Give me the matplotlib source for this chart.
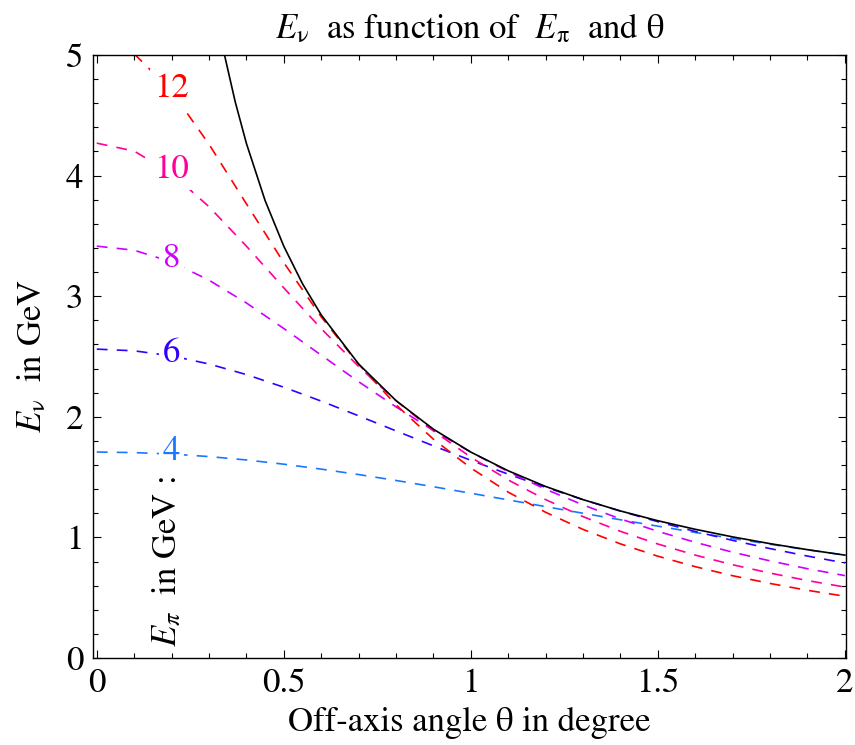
import matplotlib
matplotlib.use("Agg")
import matplotlib.pyplot as plt
from matplotlib.ticker import MultipleLocator

plt.rcParams["font.family"] = ["STIXGeneral", "DejaVu Serif"]
plt.rcParams["mathtext.fontset"] = "stix"

# off-axis angle (deg) sample points
THETA = [0.0, 0.1, 0.2, 0.3, 0.4, 0.5, 0.6, 0.7, 0.8, 0.9, 1.0,
         1.1, 1.2, 1.3, 1.4, 1.5, 1.6, 1.7, 1.8, 1.9, 2.0]

# E_nu (GeV) for each pion energy
E4 = [1.708, 1.703, 1.691, 1.670, 1.642, 1.607, 1.566, 1.521, 1.472, 1.420, 1.366,
      1.311, 1.255, 1.200, 1.146, 1.093, 1.041, 0.991, 0.943, 0.897, 0.853]
E6 = [2.561, 2.547, 2.505, 2.438, 2.350, 2.245, 2.130, 2.008, 1.883, 1.759, 1.639,
      1.524, 1.415, 1.313, 1.218, 1.130, 1.049, 0.975, 0.907, 0.845, 0.788]
E8 = [3.415, 3.381, 3.284, 3.133, 2.944, 2.732, 2.511, 2.291, 2.082, 1.886, 1.707,
      1.545, 1.399, 1.269, 1.153, 1.050, 0.959, 0.877, 0.805, 0.740, 0.683]
E10 = [4.269, 4.203, 4.018, 3.742, 3.415, 3.069, 2.731, 2.417, 2.134, 1.883, 1.665,
       1.476, 1.313, 1.172, 1.050, 0.945, 0.853, 0.773, 0.704, 0.642, 0.588]
E12 = [5.123, 5.010, 4.700, 4.260, 3.766, 3.278, 2.829, 2.436, 2.099, 1.814, 1.575,
       1.375, 1.208, 1.066, 0.946, 0.844, 0.757, 0.682, 0.618, 0.561, 0.512]

# envelope (solid black)
THETA_MAX = [0.34, 0.37, 0.40, 0.45, 0.50, 0.55, 0.60, 0.70, 0.80, 0.90, 1.00,
             1.10, 1.20, 1.30, 1.40, 1.50, 1.60, 1.70, 1.80, 1.90, 2.00]
E_MAX = [5.020, 4.613, 4.267, 3.793, 3.414, 3.103, 2.845, 2.438, 2.134, 1.897, 1.707,
         1.552, 1.422, 1.313, 1.219, 1.138, 1.067, 1.004, 0.948, 0.898, 0.853]

E_PI = ["4", "6", "8", "10", "12"]
CURVES = [E4, E6, E8, E10, E12]
COLORS = ["#1a78ff", "#3300ff", "#cc00ff", "#ff0099", "#ff0000"]
LABEL_Y = [1.71, 2.52, 3.31, 4.05, 4.72]

FS = 25

fig = plt.figure(figsize=(8.55, 7.45), dpi=100)
ax = fig.add_axes([0.1088, 0.1168, 0.8807, 0.8094])

for ys, col in zip(CURVES, COLORS):
    ax.plot(THETA, ys, color=col, lw=1.2, dashes=(6.5, 5.5), zorder=2)
ax.plot(THETA_MAX, E_MAX, color="black", lw=1.2, zorder=3)

for lbl, col, yl in zip(E_PI, COLORS, LABEL_Y):
    ax.text(0.2, yl, lbl, color=col, fontsize=FS, ha="center", va="center",
            bbox=dict(fc="white", ec="none", pad=3), zorder=4)

ax.text(0.19, 0.80, r"$E_\pi$  in GeV :", rotation=90, fontsize=FS,
        ha="center", va="center", zorder=4)

ax.set_xlim(-0.01, 2.003)
ax.set_ylim(0, 5)
ax.xaxis.set_major_locator(MultipleLocator(0.5))
ax.xaxis.set_minor_locator(MultipleLocator(0.1))
ax.yaxis.set_major_locator(MultipleLocator(1))
ax.yaxis.set_minor_locator(MultipleLocator(0.2))
ax.xaxis.set_major_formatter(plt.FuncFormatter(lambda v, p: f"{v:g}"))
ax.tick_params(which="both", direction="in", top=True, right=True,
               labelsize=FS, width=0.8)
ax.tick_params(which="major", length=6, pad=7)
ax.tick_params(which="minor", length=3.5)
for s in ax.spines.values():
    s.set_linewidth(1.0)

ax.set_xlabel("Off-axis angle θ in degree", fontsize=FS, labelpad=5)
ax.set_ylabel(r"$E_{\mathrm{\nu}}$  in GeV", fontsize=FS, labelpad=12)
ax.set_title(r"$E_{\mathrm{\nu}}$  as function of  $E_{\mathrm{\pi}}$  and θ",
             fontsize=FS, pad=12)

fig.savefig("out.png", dpi=100)
